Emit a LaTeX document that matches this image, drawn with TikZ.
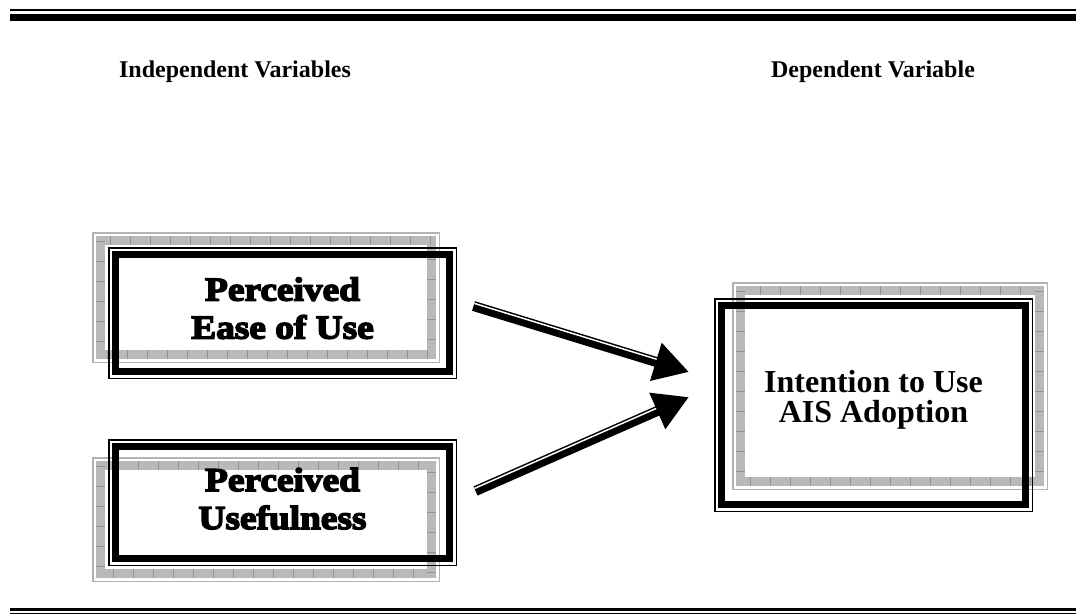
\documentclass[tikz,border=0pt]{standalone}
\usepackage{fontspec}
\setmainfont{Liberation Serif}
\newfontfamily\fatfont{Liberation Serif}[BoldFeatures={FakeBold=4.5,FakeStretch=1.12}]
\usetikzlibrary{arrows.meta,calc}

\tikzset{
  heading/.style={font=\bfseries\fontsize{18}{21.6}\selectfont, anchor=base},
  varbox/.style={draw, line width=5.25pt, outer sep=0pt, align=center},
  fattext/.style={font=\fatfont\bfseries\fontsize{25}{28.5}\selectfont},
  boxedge/.style={line width=1.125pt},
  shadowedge/.style={gray!60, line width=1.125pt},
  shadowband/.style={gray!55, line width=6.75pt},
  shadowtick/.style={gray!85, line width=6.75pt, dash pattern=on 0.6pt off 14.4pt},
  link/.style={line width=7.5pt, -{Triangle[length=26pt, width=28pt]}},
  linkstripe/.style={white, line width=1.1pt, shorten >=26pt}
}

\begin{document}
\begin{tikzpicture}[x=0.75pt,y=-0.75pt]
\useasboundingbox (0,0) rectangle (1076,615);

% top and bottom rules
\draw[line width=1.125pt] (10,9.75) -- (1076,9.75);
\draw[line width=5.25pt] (10,17.5) -- (1076,17.5);
\draw[line width=2.2pt] (10,609.8) -- (1076,609.8);
\draw[line width=0.9pt] (10,613.5) -- (1076,613.5);

% headings
\node[heading] (indep) at (235,77) {Independent Variables};
\node[heading] (dep) at (873,77) {Dependent Variable};

% gray shadow frames
\foreach \xa/\ya/\xb/\yb in {92/232/440/363, 92/457/440/582, 732/282/1048/490}
{
    \draw[shadowedge] ({\xa+0.75},{\ya+0.75}) rectangle ({\xb-0.75},{\yb-0.75});
    \draw[shadowband] ({\xa+8.5},{\ya+8.5}) rectangle ({\xb-8.5},{\yb-8.5});
    \draw[shadowtick] ({\xa+8.5},{\ya+8.5}) rectangle ({\xb-8.5},{\yb-8.5});
}

% variable boxes
\node[varbox, fattext, text depth=7.5pt, minimum width=250.5pt, minimum height=87.75pt] (peou) at (282.5,313) {Perceived\\Ease of Use};
\draw[boxedge] ($(peou.north west)+(-6.75,-6.75)$) rectangle ($(peou.south east)+(6.75,6.75)$);

\node[varbox, fattext, text depth=6pt, minimum width=250.5pt, minimum height=84pt] (pu) at (282.5,502.5) {Perceived\\Usefulness};
\draw[boxedge] ($(pu.north west)+(-6.75,-6.75)$) rectangle ($(pu.south east)+(6.75,6.75)$);

\node[varbox, font=\bfseries\fontsize{24}{22.5}\selectfont, text depth=12.5pt, minimum width=228pt, minimum height=149.25pt] (itu) at (873.5,405) {Intention to Use\\AIS Adoption};
\draw[boxedge] ($(itu.north west)+(-6.75,-6.75)$) rectangle ($(itu.south east)+(6.75,6.75)$);

% arrows
\coordinate (a1s) at ($(peou.east)+(24,-7)$);
\coordinate (a1e) at ($(itu.west)+(-32.5,-33)$);
\coordinate (a2s) at ($(pu.east)+(26,-11.5)$);
\coordinate (a2e) at ($(itu.west)+(-32.5,-8)$);

\draw[link] (a1s) -- (a1e);
\draw[linkstripe] ($(a1s)!2.06pt!90:(a1e)$) -- ($(a1e)!2.06pt!-90:(a1s)$);
\draw[link] (a2s) -- (a2e);
\draw[linkstripe] ($(a2s)!2.06pt!90:(a2e)$) -- ($(a2e)!2.06pt!-90:(a2s)$);

\end{tikzpicture}
\end{document}
